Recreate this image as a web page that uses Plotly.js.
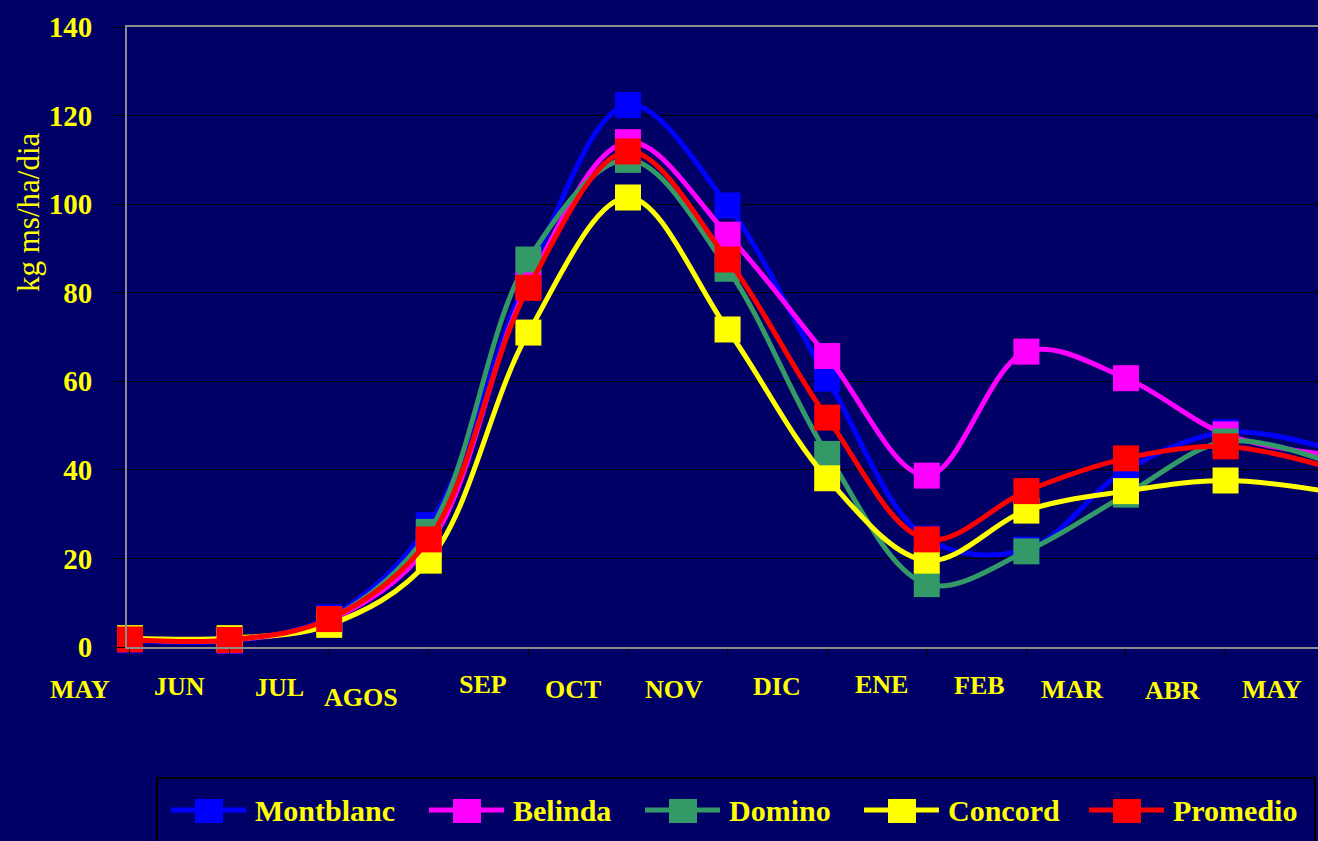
<!DOCTYPE html>
<html>
<head>
<meta charset="utf-8">
<script src="https://cdn.plot.ly/plotly-3.0.1.min.js"></script>
<style>
  html, body { margin: 0; padding: 0; background: #000066; }
  #chart { width: 1318px; height: 841px; }
</style>
</head>
<body>
<div id="chart"></div>
<script>
// ---- data ----
const pointIndex = [0, 1, 2, 3, 4, 5, 6, 7, 8, 9, 10, 11, 12];
const monthLabels = ["MAY", "JUN", "JUL", "AGOS", "SEP", "OCT", "NOV", "DIC", "ENE", "FEB", "MAR", "ABR", "MAY"];
const seriesNames = ["Montblanc", "Belinda", "Domino", "Concord", "Promedio"];
const montblanc = [1.5, 1.4, 6.7, 27.5, 84, 122.4, 99.7, 60.6, 24.5, 22, 40, 48.5, 45];
const belinda   = [1.8, 1.5, 6.0, 23, 82, 114, 93.1, 65.7, 38.7, 66.7, 60.7, 48, 43.5];
const domino    = [1.8, 1.6, 6.3, 26, 87.5, 110, 85.4, 43.6, 14.2, 21.6, 34.4, 46.4, 42];
const concord   = [2.0, 2.0, 5.0, 19.5, 71, 101.5, 71.7, 38.1, 19.5, 30.8, 35.2, 37.6, 35.2];
const promedio  = [1.7, 1.6, 6.3, 24.3, 81.1, 111.9, 87.5, 51.8, 24.3, 35.2, 42.6, 45.3, 40.8];
const yTicks = [0, 20, 40, 60, 80, 100, 120, 140];

// ---- styling / layout ----
const seriesValues = [montblanc, belinda, domino, concord, promedio];
const seriesColors = ["#0000ff", "#ff00ff", "#339966", "#ffff00", "#ff0000"];
const FONT = '"Liberation Serif", "Times New Roman", serif';
const YELLOW = "#ffff00";
const BG = "#000066";

const xRange = [-0.03, 11.928];
// month label placement tweaks (layout only)
const labelDx = [0, 0, 0, -0.18, 0.04, -0.05, -0.04, 0, 0.05, 0.03, -0.04, -0.03, -0.03];
const labelY  = [689, 686, 687, 697, 684, 689, 689, 686, 684, 685, 689, 690, 689];
// legend entry left edges (px) and row centre
const legendX = [171, 429, 645, 864, 1089];
const legendRowY = 810;

const plotLeft = 127, plotTop = 27, plotW = 1191, plotH = 620;
const px = v => (v - plotLeft) / plotW;            // pixel -> paper x
const py = v => (plotTop + plotH - v) / plotH;     // pixel -> paper y
function xPaper(v) { return (v - xRange[0]) / (xRange[1] - xRange[0]); }

const traces = seriesNames.map((name, i) => ({
  type: "scatter",
  mode: "lines+markers",
  name: name,
  x: pointIndex,
  y: seriesValues[i],
  line: { color: seriesColors[i], width: 5, shape: "spline", smoothing: 1 },
  marker: { symbol: "square", size: 26, color: seriesColors[i] },
  cliponaxis: false,
  showlegend: false,
  hoverinfo: "x+y+name"
}));

const annotations = monthLabels.map((t, k) => ({
  text: t,
  xref: "paper", yref: "paper",
  x: xPaper(k - 0.5 + labelDx[k]), y: 0,
  xanchor: "center", yanchor: "middle",
  yshift: -(labelY[k] - (plotTop + plotH)),
  showarrow: false,
  font: { family: FONT, size: 26, color: YELLOW, weight: 700 }
}));
annotations.push({
  text: "kg ms/ha/dia",
  xref: "paper", yref: "paper",
  x: px(29), y: py(212),
  xanchor: "center", yanchor: "middle",
  textangle: -90,
  showarrow: false,
  font: { family: FONT, size: 31, color: YELLOW }
});

const shapes = [{
  type: "rect", xref: "paper", yref: "paper",
  x0: px(157), x1: px(1315), y0: py(778), y1: py(860),
  line: { color: "#000000", width: 2 },
  fillcolor: "rgba(0,0,0,0)"
}];

seriesNames.forEach((name, i) => {
  const x0 = legendX[i];
  shapes.push({
    type: "line", xref: "paper", yref: "paper",
    x0: px(x0), x1: px(x0 + 75), y0: py(legendRowY), y1: py(legendRowY),
    line: { color: seriesColors[i], width: 5 }
  });
  shapes.push({
    type: "rect", xref: "paper", yref: "paper",
    x0: px(x0 + 24), x1: px(x0 + 52), y0: py(legendRowY - 11), y1: py(legendRowY + 13),
    line: { width: 0 }, fillcolor: seriesColors[i]
  });
  annotations.push({
    text: name,
    xref: "paper", yref: "paper",
    x: px(x0 + 82), y: py(legendRowY),
    xanchor: "left", yanchor: "middle",
    showarrow: false,
    font: { family: FONT, size: 30, color: YELLOW, weight: 700 }
  });
});

const layout = {
  width: 1318, height: 841,
  paper_bgcolor: BG, plot_bgcolor: BG,
  margin: { l: plotLeft, r: 0, t: plotTop, b: 841 - plotTop - plotH, pad: 0 },
  showlegend: false,
  xaxis: {
    range: xRange,
    tickvals: pointIndex,
    showticklabels: false,
    ticks: "outside", ticklen: 7, tickcolor: "#000000", tickwidth: 1,
    showgrid: false, zeroline: false,
    showline: true, mirror: true, linecolor: "#8c8c8c", linewidth: 2,
    fixedrange: true
  },
  yaxis: {
    range: [0, 140],
    tickvals: yTicks,
    ticks: "outside", ticklen: 12, tickcolor: "#000000", tickwidth: 1,
    ticklabelstandoff: 15,
    tickfont: { family: FONT, size: 29, color: YELLOW, weight: 700 },
    showgrid: true, gridcolor: "#000000", gridwidth: 1,
    zeroline: false,
    showline: true, linecolor: "#8c8c8c", linewidth: 2,
    fixedrange: true
  },
  annotations: annotations,
  shapes: shapes
};

Plotly.newPlot("chart", traces, layout, { displayModeBar: false });
</script>
</body>
</html>
